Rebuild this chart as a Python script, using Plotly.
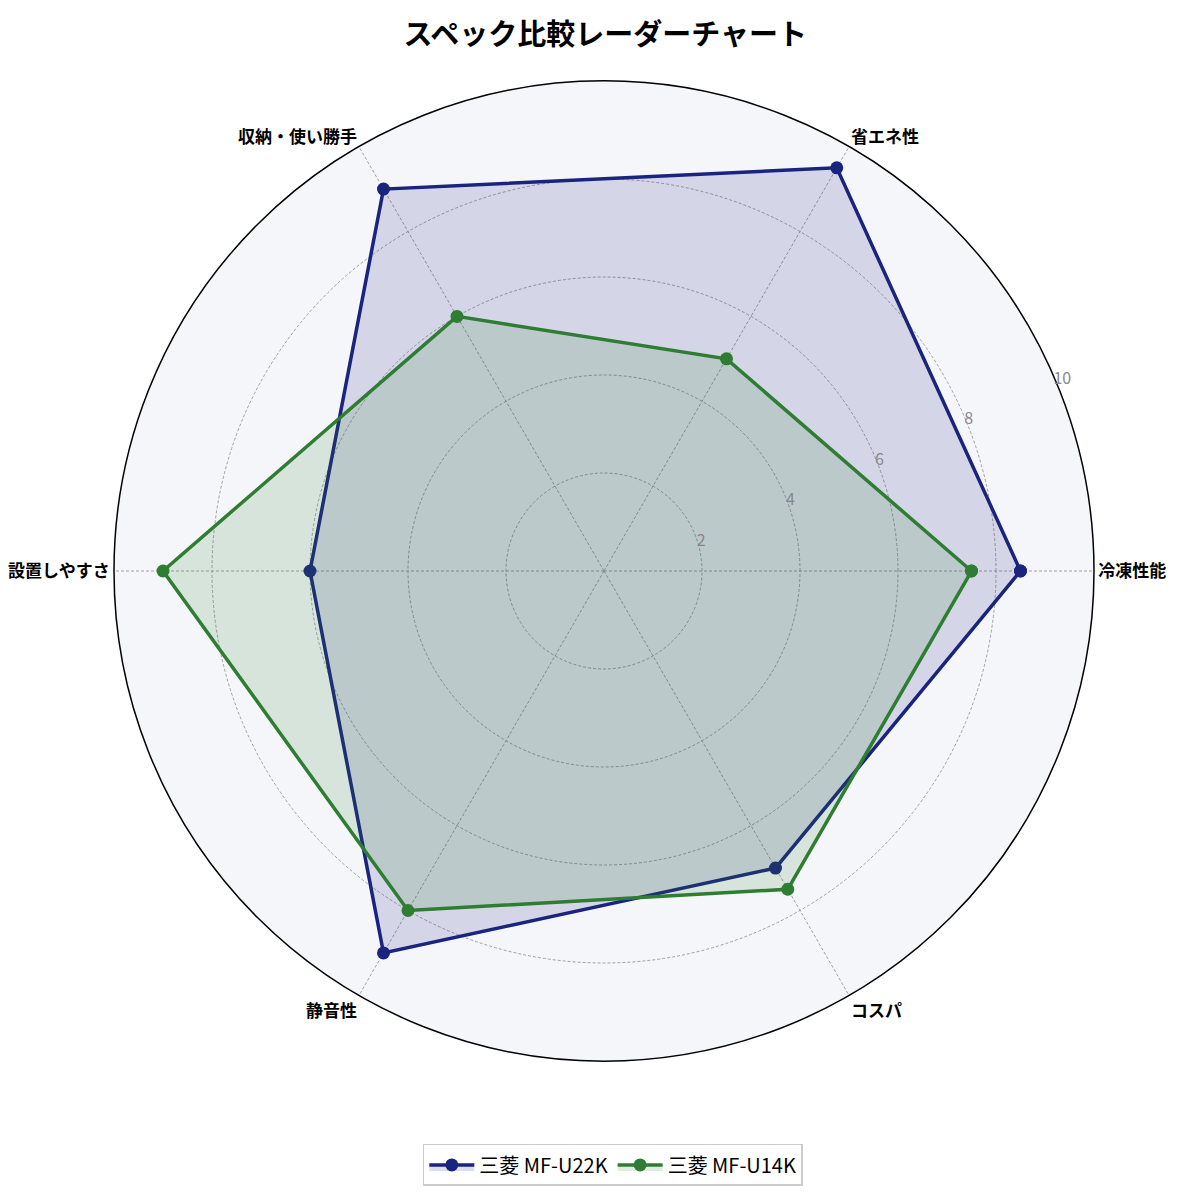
import plotly.graph_objs as go

# Data
categories = ["冷凍性能", "省エネ性", "収納・使い勝手", "設置しやすさ", "静音性", "コスパ"]
u22k_scores = [8.5, 9.5, 9.0, 6.0, 9.0, 7.0]
u14k_scores = [7.5, 5.0, 6.0, 9.0, 8.0, 7.5]
series_names = ["三菱 MF-U22K", "三菱 MF-U14K"]
radial_ticks = [2, 4, 6, 8, 10]


def closed(vals):
    return list(vals) + [vals[0]]


def render_radar():
    fig = go.Figure()

    # one trace per model, polygon closed by repeating first point
    for name, vals, color, fill in [
        (series_names[0], u22k_scores, "#1a237e", "rgba(26,35,126,0.15)"),
        (series_names[1], u14k_scores, "#2e7d32", "rgba(46,125,50,0.15)"),
    ]:
        fig.add_trace(
            go.Scatterpolar(
                r=closed(vals),
                theta=closed(categories),
                name=name,
                mode="lines+markers",
                line=dict(color=color, width=3.5),
                marker=dict(color=color, size=13),
                fill="toself",
                fillcolor=fill,
            )
        )

    fig.update_layout(
        width=1185,
        height=1198,
        font=dict(family="Noto Sans CJK JP", color="black"),
        title=dict(
            text="<b>スペック比較レーダーチャート</b>",
            x=0.504,
            xanchor="center",
            y=0.978,
            yanchor="middle",
            font=dict(size=29, color="black"),
        ),
        paper_bgcolor="white",
        margin=dict(l=106, r=99, t=73, b=145),
        polar=dict(
            bgcolor="#f5f6fa",
            angularaxis=dict(
                direction="counterclockwise",
                rotation=0,
                tickfont=dict(size=17, color="black", family="Noto Sans CJK JP", weight="bold"),
                ticks="",
                showline=True,
                linecolor="black",
                linewidth=1.5,
                gridcolor="#a0a0a0",
                griddash="3px,2px",
                gridwidth=0.8,
            ),
            radialaxis=dict(
                range=[0, 10],
                tickvals=radial_ticks,
                angle=24.5,
                tickangle=24.5,
                tickfont=dict(size=16, color="#888888"),
                ticks="",
                showline=False,
                gridcolor="#a0a0a0",
                griddash="3px,2px",
                gridwidth=0.8,
            ),
        ),
        legend=dict(
            orientation="h",
            x=0.509,
            xanchor="center",
            y=-0.106,
            yanchor="middle",
            itemwidth=45,
            bgcolor="white",
            bordercolor="#cccccc",
            borderwidth=1.5,
            font=dict(size=20, color="black"),
        ),
    )

    fig.write_html("out.html")


if __name__ == "__main__":
    render_radar()
